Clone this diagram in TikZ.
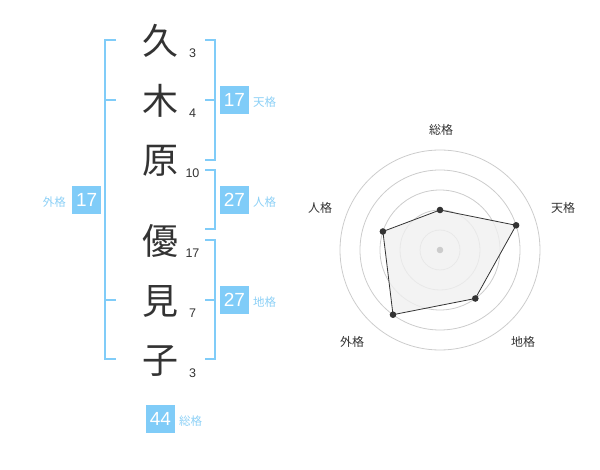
\documentclass[tikz,border=0pt]{standalone}
\usepackage{fontspec}
\setmainfont{Liberation Sans}
\newfontfamily\cjk{Noto Sans CJK JP}
\definecolor{accent}{RGB}{128,204,248}
\definecolor{labelblue}{RGB}{140,208,246}
\definecolor{ink}{RGB}{51,51,51}
\definecolor{ringgray}{RGB}{204,204,204}
\definecolor{fillgray}{RGB}{240,240,240}
\begin{document}
\begin{tikzpicture}[x=1pt,y=-1pt,
  kanji/.style={font=\cjk\fontsize{36}{36}\selectfont,text=ink,inner sep=0pt},
  strokes/.style={font=\fontsize{12.5}{12.5}\selectfont,text=ink,inner sep=0pt},
  scorebox/.style={fill=accent,text=white,minimum width=29pt,minimum height=28pt,inner sep=0pt,font=\fontsize{19}{19}\selectfont},
  blabel/.style={font=\cjk\fontsize{11.5}{11.5}\selectfont,text=labelblue,inner sep=0pt},
  bracket/.style={draw=accent,line width=2pt},
  rlabel/.style={font=\cjk\fontsize{12}{12}\selectfont,text=ink,inner sep=0pt},
  ring/.style={draw=ringgray,line width=0.8pt},
  vdot/.style={fill=ink,draw=none}
]
\useasboundingbox (0,0) rectangle (600,470);
% kanji
\node[kanji] (k1) at (160,41) {久};
\node[kanji] (k2) at (160,101) {木};
\node[kanji] (k3) at (160,161) {原};
\node[kanji] (k4) at (160,241) {優};
\node[kanji] (k5) at (160,301) {見};
\node[kanji] (k6) at (160,361) {子};
% strokes
\node[strokes] (s1) at (192.5,53) {3};
\node[strokes] (s2) at (192.5,113) {4};
\node[strokes] (s3) at (192.5,173) {10};
\node[strokes] (s4) at (192.5,253) {17};
\node[strokes] (s5) at (192.5,313) {7};
\node[strokes] (s6) at (192.5,373) {3};
% outer bracket (left)
\draw[bracket] (116,40) -- (105,40) -- (105,359) -- (116,359);
\draw[bracket] (105,100) -- (116,100);
\draw[bracket] (105,300) -- (116,300);
% right brackets
\draw[bracket] (205,40) -- (215,40) -- (215,160) -- (205,160);
\draw[bracket] (215,100) -- (205,100);
\draw[bracket] (205,170) -- (215,170) -- (215,229.5) -- (205,229.5);
\draw[bracket] (205,240) -- (215,240) -- (215,359) -- (205,359);
\draw[bracket] (215,300) -- (205,300);
% boxes
\node[scorebox] (gai) at (86.7,200) {17};
\node[blabel,anchor=east] (gailab) at (66,202) {外格};
\node[scorebox] (ten) at (234.5,100) {17};
\node[blabel,anchor=west] (tenlab) at (253,102) {天格};
\node[scorebox] (jin) at (234.5,200) {27};
\node[blabel,anchor=west] (jinlab) at (253,202) {人格};
\node[scorebox] (chi) at (234.5,300) {27};
\node[blabel,anchor=west] (chilab) at (253,302) {地格};
\node[scorebox] (sou) at (160.5,419) {44};
\node[blabel,anchor=west] (soulab) at (179,421) {総格};
% radar
\coordinate (c) at (440,250);
\foreach \r in {20,40,60,80,100} \draw[ring] (c) circle (\r);
\coordinate (vs) at (440,210);
\coordinate (vt) at (516.1,225.3);
\coordinate (vc) at (475.3,298.5);
\coordinate (vg) at (393.0,314.7);
\coordinate (vj) at (382.9,231.5);
\filldraw[fill=fillgray,fill opacity=0.8,draw=ink,line width=0.8pt] (vs) -- (vt) -- (vc) -- (vg) -- (vj) -- cycle;
\fill[ringgray] (c) circle (3.3);
\foreach \v in {vs,vt,vc,vg,vj} \fill[vdot] (\v) circle (3.3);
\node[rlabel] (rs) at (441,130) {総格};
\node[rlabel] (rt) at (563,208) {天格};
\node[rlabel] (rc) at (523,342) {地格};
\node[rlabel] (rg) at (352,342) {外格};
\node[rlabel] (rj) at (320,208) {人格};
\end{tikzpicture}
\end{document}
